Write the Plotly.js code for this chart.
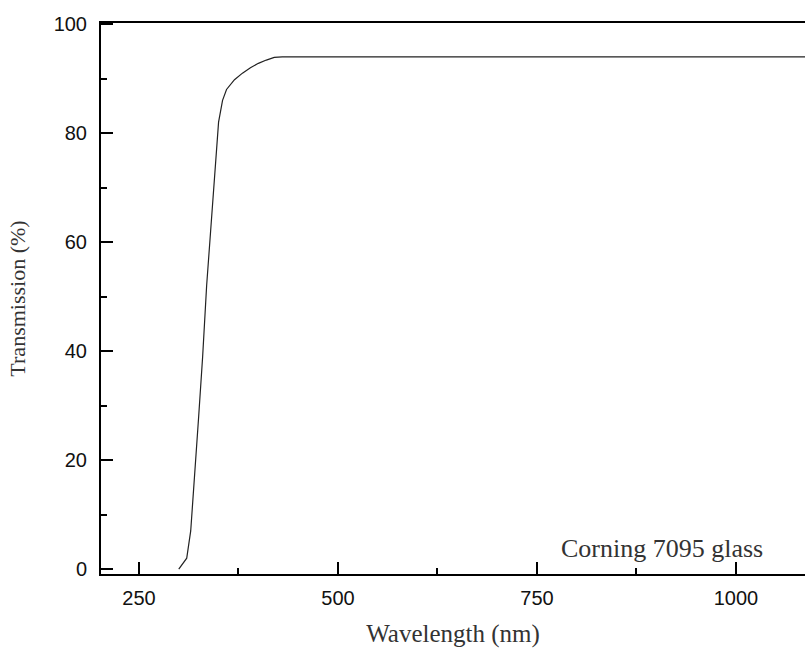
<!DOCTYPE html>
<html>
<head>
<meta charset="utf-8">
<script src="https://cdn.plot.ly/plotly-3.0.1.min.js"></script>
<style>html,body{margin:0;padding:0;background:#fff;}#chart{width:805px;height:648px;}</style>
</head>
<body>
<div id="chart"></div>
<script>
// Wavelength (nm) and transmission (%)
const wavelength = [300, 310, 315, 320, 325, 330, 335, 340, 345, 350, 355, 360, 370, 380, 390, 400, 410, 420, 430, 500, 600, 700, 800, 900, 1000, 1100];
const transmission = [0, 2, 7, 17, 28, 39, 52, 62, 72, 82, 86, 88, 89.8, 91, 92, 92.8, 93.4, 93.9, 94, 94, 94, 94, 94, 94, 94, 94];
const xTickVals = [250, 500, 750, 1000];
const yTickVals = [0, 20, 40, 60, 80, 100];
const labelText = "Corning 7095 glass";

const trace = {
  x: wavelength, y: transmission, type: 'scatter', mode: 'lines',
  line: {color: '#222', width: 1.2}, hoverinfo: 'skip'
};

const layout = {
  width: 805, height: 648,
  margin: {l: 101, r: 0, t: 23, b: 74},
  paper_bgcolor: '#fff', plot_bgcolor: '#fff',
  showlegend: false,
  xaxis: {
    range: [202.3, 1086.7], tickvals: xTickVals, ticktext: xTickVals.map(String),
    ticks: 'inside', ticklen: 12, tickwidth: 2, tickcolor: '#000',
    minor: {tickvals: [375, 625, 875], ticks: 'inside', ticklen: 6, tickwidth: 2, tickcolor: '#000'},
    showline: true, linecolor: '#000', linewidth: 2, mirror: true,
    showgrid: false, zeroline: false,
    tickfont: {family: 'Liberation Sans, Arial, sans-serif', size: 20, color: '#111'},
    ticklabelstandoff: 5,
    title: {text: 'Wavelength (nm)', font: {family: 'Liberation Serif, Times New Roman, serif', size: 25, color: '#333'}, standoff: 16}
  },
  yaxis: {
    range: [-0.9, 100.2], tickvals: yTickVals, ticktext: yTickVals.map(String),
    ticks: 'inside', ticklen: 12, tickwidth: 2, tickcolor: '#000',
    minor: {tickvals: [10, 30, 50, 70, 90], ticks: 'inside', ticklen: 6, tickwidth: 2, tickcolor: '#000'},
    showline: true, linecolor: '#000', linewidth: 2, mirror: false,
    showgrid: false, zeroline: false,
    tickfont: {family: 'Liberation Sans, Arial, sans-serif', size: 20, color: '#111'},
    ticklabelstandoff: 8,
    title: {text: 'Transmission (%)', font: {family: 'Liberation Serif, Times New Roman, serif', size: 22, color: '#333'}, standoff: 22}
  },
  annotations: [{
    x: 907, y: 3.7, xref: 'x', yref: 'y', text: labelText, showarrow: false,
    xanchor: 'center', yanchor: 'middle',
    font: {family: 'Liberation Serif, Times New Roman, serif', size: 26, color: '#333'}
  }]
};

Plotly.newPlot('chart', [trace], layout, {displayModeBar: false, staticPlot: true});
</script>
</body>
</html>
